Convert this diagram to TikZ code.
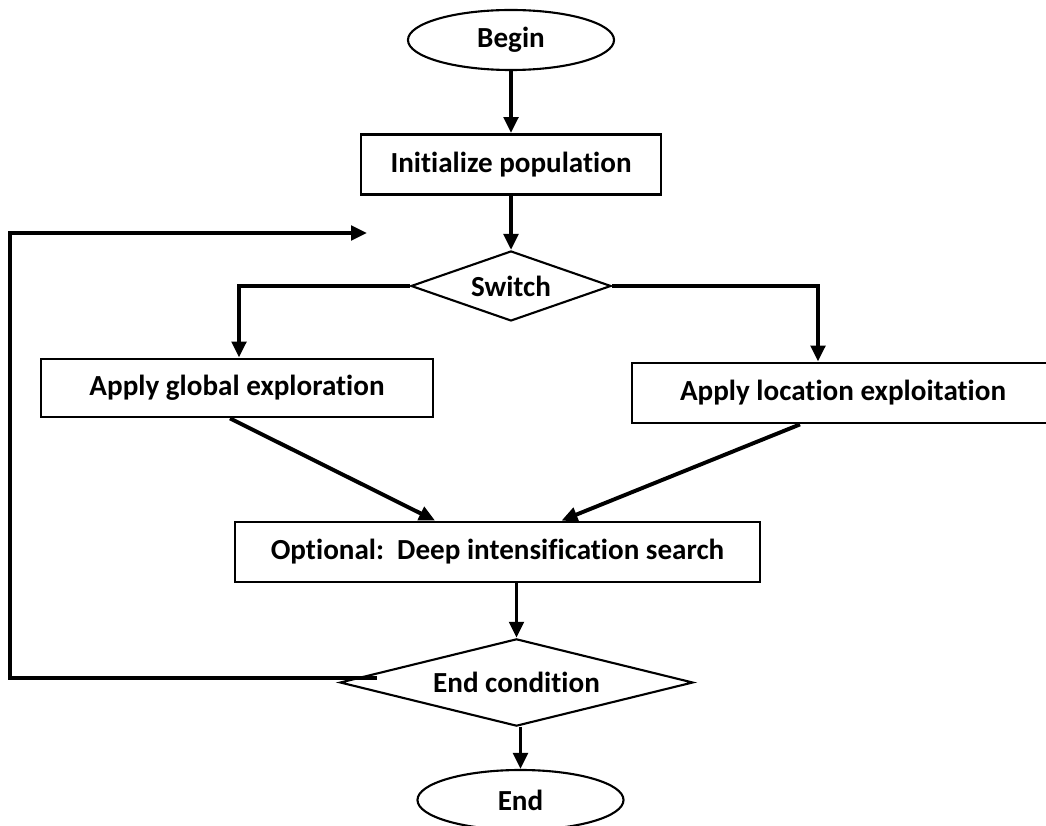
\documentclass[tikz,border=0pt]{standalone}
\usepackage{fontspec}
\setmainfont{Carlito}[Ligatures=NoCommon]
\usetikzlibrary{shapes.geometric, positioning, arrows.meta, calc}

\begin{document}
\begin{tikzpicture}[x=0.025cm, y=-0.025cm,
    font=\fontsize{20.7}{24}\selectfont\bfseries,
    terminal/.style={ellipse,
      draw,
      line width=1.5pt,
      inner sep=0pt,
      minimum width=5.15cm,
      minimum height=1.5cm},
    process/.style={rectangle,
      draw,
      line width=2pt,
      inner sep=0pt,
      minimum height=1.5cm},
    decision/.style={diamond,
      draw,
      fill=white,
      line width=1.5pt,
      inner sep=0pt,
      aspect=2.5},
    flow/.style={line width=2.8pt,
      -{Triangle[length=0.4cm, width=0.36cm]}}]

  \useasboundingbox (0,0) rectangle (1046,826);

  % MAIN COLUMN

  \node[terminal] (start) at (511,40) {Begin};

  \node[process,
    minimum width=7.5cm,
    below=1.55cm of start] (init) {Initialize population};

  \node[decision,
    minimum width=5cm,
    minimum height=1.75cm,
    below=1.35cm of init] (switch) {Switch};

  % BRANCHES

  \node[process,
    minimum width=9.8cm,
    minimum height=1.45cm] (explore) at (237,388) {Apply global exploration};

  \node[process,
    minimum width=10.55cm] (exploit) at (843,393) {Apply location exploitation};

  \node[process,
    minimum width=13.125cm] (optional) at (497.5,552) {Optional:\ \ Deep intensification search};

  \node[decision,
    minimum width=8.825cm,
    minimum height=1.625cm] (endcond) at (516.5,682.5) {End condition};

  \node[terminal] (finish) at (520.5,800) {End};

  % CONNECTORS

  \draw[flow] (start) -- (init);
  \draw[flow] (init) -- (switch);
  \draw[flow] (switch.west) -| ([xshift=0.05cm]explore.north);
  \draw[flow] (switch.east) -| ([xshift=-0.625cm]exploit.north);
  \draw[flow] ([xshift=-0.175cm]explore.south) -- ([xshift=-1.56cm]optional.north);
  \draw[flow] ([xshift=-1.075cm]exploit.south) -- ([xshift=1.6cm]optional.north);
  \draw[flow] (optional.south -| endcond.north) -- (endcond.north);
  \draw[flow] (finish.north |- endcond.south) -- (finish.north);

  % LOOP BACK

  \coordinate (loopstart) at (377,678);
  \coordinate (loopcorner) at (10,678);
  \coordinate (loopend) at (367,233);
  \draw[flow] (loopstart) -- (loopcorner) |- (loopend);

\end{tikzpicture}
\end{document}
